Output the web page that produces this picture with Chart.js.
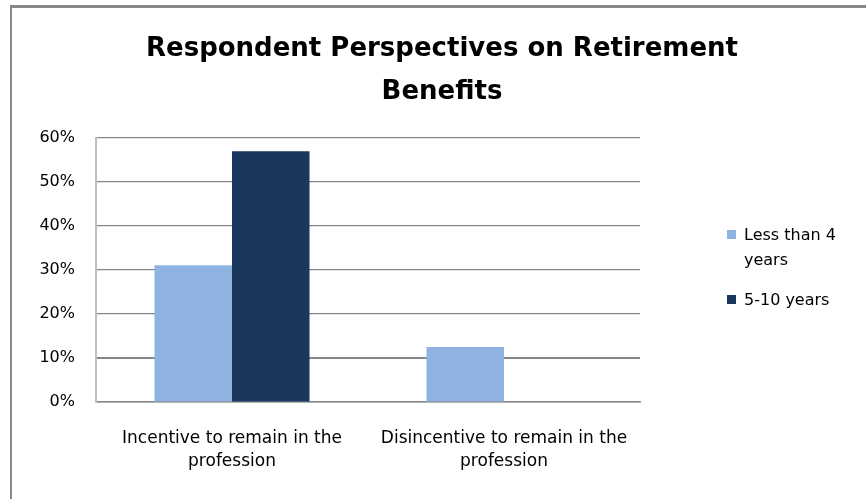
<!DOCTYPE html>
<html>
<head>
<meta charset="utf-8">
<script src="https://cdn.jsdelivr.net/npm/chart.js@4.4.1/dist/chart.umd.min.js"></script>
<style>
  html, body { margin: 0; padding: 0; background: #fff; }
  #wrap { position: relative; width: 866px; height: 499px; overflow: hidden; }
  #frame { position: absolute; left: 10px; top: 5px; width: 900px; height: 600px;
           border-top: 3px solid #888; border-left: 2px solid #888; box-sizing: border-box; }
  canvas { position: absolute; left: 0; top: 0; }
  #title { position: absolute; left: 92px; width: 700px; top: 26px; text-align: center; white-space: nowrap;
           font-family: "DejaVu Sans", sans-serif; font-weight: bold; font-size: 26px; line-height: 43px; color: #000; }
  .leg { position: absolute; font-family: "DejaVu Sans", sans-serif; font-size: 16px; color: #000; line-height: 25px; white-space: nowrap; }
  .sw { position: absolute; width: 9px; height: 9px; }
</style>
</head>
<body>
<div id="wrap">
  <div id="frame"></div>
  <canvas id="c" width="866" height="499"></canvas>
  <div id="title"></div>
  <div id="legend"></div>
</div>
<script>
const titleLines = ["Respondent Perspectives on Retirement", "Benefits"];
const categories = [["Incentive to remain in the", "profession"], ["Disincentive to remain in the", "profession"]];
const seriesNames = [["Less than 4", "years"], ["5-10 years"]];
const lessThan4 = [31.1, 12.5];
const fiveToTen = [57.0, 0];
const yTicks = [0, 10, 20, 30, 40, 50, 60];
const colors = ["#8FB3E1", "#1A385E"];
const FONT = "'DejaVu Sans', sans-serif";

document.getElementById('title').innerHTML = titleLines.join('<br>');

const legend = document.getElementById('legend');
const legTops = [222, 287];
seriesNames.forEach((lines, i) => {
  const sw = document.createElement('div');
  sw.className = 'sw';
  sw.style.left = '727px';
  sw.style.top = (legTops[i] + 8) + 'px';
  sw.style.background = colors[i];
  legend.appendChild(sw);
  const t = document.createElement('div');
  t.className = 'leg';
  t.style.left = '744px';
  t.style.top = legTops[i] + 'px';
  t.innerHTML = lines.join('<br>');
  legend.appendChild(t);
});

new Chart(document.getElementById('c'), {
  type: 'bar',
  data: {
    labels: categories,
    datasets: [
      { label: seriesNames[0].join(' '), data: lessThan4, backgroundColor: colors[0] },
      { label: seriesNames[1].join(' '), data: fiveToTen, backgroundColor: colors[1] }
    ]
  },
  options: {
    responsive: false,
    animation: false,
    events: [],
    layout: { padding: { left: 0, right: 226, top: 138, bottom: 0 } },
    datasets: { bar: { categoryPercentage: 0.57, barPercentage: 1.0 } },
    plugins: {
      legend: { display: false },
      tooltip: { enabled: false },
      title: { display: false }
    },
    scales: {
      x: {
        afterFit: (s) => { s.height = 97; },
        grid: { display: false, drawTicks: false },
        border: { display: true, color: '#868686', width: 1.5 },
        ticks: { color: '#000', font: { family: FONT, size: 17, lineHeight: 1.36 }, padding: 25, maxRotation: 0, autoSkip: false }
      },
      y: {
        min: 0, max: 60,
        afterFit: (s) => { s.width = 96; },
        afterBuildTicks: (s) => { s.ticks = yTicks.map(v => ({ value: v })); },
        grid: { color: '#868686', lineWidth: (c) => (c.index === 1 ? 2 : 1.2), drawTicks: false },
        border: { display: true, color: '#BFBFBF', width: 2 },
        ticks: { color: '#000', font: { family: FONT, size: 16 }, padding: 21, callback: (v) => v + '%' }
      }
    }
  }
});
</script>
</body>
</html>
